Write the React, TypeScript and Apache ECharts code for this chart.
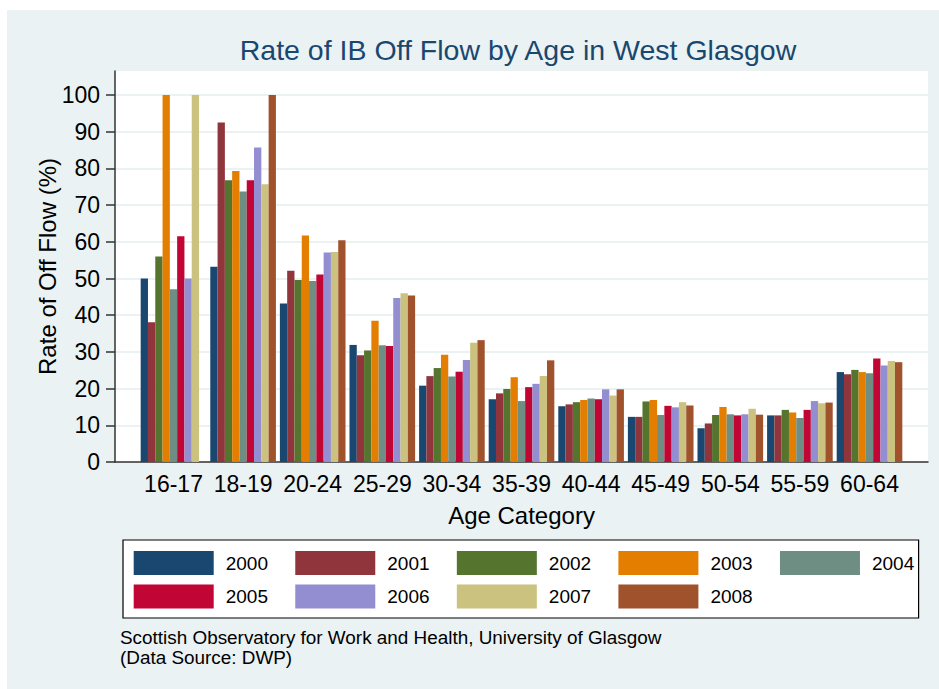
import React, { useEffect, useRef } from "react";
import * as echarts from "echarts";

const ageCategories = ["16-17", "18-19", "20-24", "25-29", "30-34", "35-39", "40-44", "45-49", "50-54", "55-59", "60-64"];
const years = ["2000", "2001", "2002", "2003", "2004", "2005", "2006", "2007", "2008"];
const yearColors = ["#1a476f", "#90353b", "#55752f", "#e37e00", "#6e8e84", "#c10534", "#938dd2", "#cac27e", "#a0522d"];

const v2000 = [50, 53.2, 43.2, 31.9, 20.8, 17.1, 15.2, 12.3, 9.2, 12.7, 24.5];
const v2001 = [38.1, 92.5, 52.1, 29.1, 23.4, 18.7, 15.7, 12.3, 10.5, 12.7, 23.9];
const v2002 = [56, 76.8, 49.6, 30.4, 25.6, 19.9, 16.3, 16.5, 12.8, 14.2, 25.1];
const v2003 = [100, 79.3, 61.7, 38.5, 29.2, 23.1, 16.9, 16.9, 15.0, 13.5, 24.5];
const v2004 = [47.1, 73.7, 49.3, 31.8, 23.3, 16.6, 17.3, 12.8, 13.0, 12.0, 24.2];
const v2005 = [61.5, 76.8, 51.1, 31.6, 24.6, 20.4, 17.1, 15.3, 12.7, 14.2, 28.2];
const v2006 = [50, 85.7, 57.1, 44.7, 27.8, 21.3, 19.8, 14.9, 13.0, 16.6, 26.3];
const v2007 = [100, 75.7, 57.2, 46.0, 32.5, 23.4, 18.1, 16.3, 14.5, 16.0, 27.5];
const v2008 = [null, 100, 60.4, 45.4, 33.2, 27.7, 19.8, 15.4, 12.9, 16.2, 27.2];
const seriesValues = [v2000, v2001, v2002, v2003, v2004, v2005, v2006, v2007, v2008];

const yTicks = { min: 0, max: 100, interval: 10 };

const FONT = "'Liberation Sans', Arial, Helvetica, sans-serif";

export default function App() {
  const ref = useRef<HTMLDivElement>(null);
  useEffect(() => {
    if (!ref.current) return;
    const chart = echarts.init(ref.current, undefined, { renderer: "svg" });
    const axisColor = "#333333";
    const legendBase = {
      left: 133.7, padding: 0,
      itemWidth: 80, itemHeight: 24, itemGap: 27.3,
      icon: "rect",
      textStyle: { fontSize: 19, color: "#000", padding: [0, 0, 0, 7] },
    };
    const option: any = {
      animation: false,
      textStyle: { fontFamily: FONT },
      color: yearColors,
      graphic: [
        { type: "rect", z: -100, shape: { x: 7, y: 10, width: 932, height: 679 }, style: { fill: "#EAF2F3" } },
        { type: "rect", z: -50, shape: { x: 123, y: 540, width: 795.6, height: 78 }, style: { fill: "#ffffff", stroke: "#000", lineWidth: 1.2 } },
        {
          type: "text", z: 10, x: 518, y: 50,
          style: { text: "Rate of IB Off Flow by Age in West Glasgow", font: `28.5px ${FONT}`, fill: "#1a476f", align: "center", verticalAlign: "middle", textAlign: "center", textVerticalAlign: "middle" },
        },
        {
          type: "text", z: 10, x: 120, y: 627,
          style: { text: "Scottish Observatory for Work and Health, University of Glasgow\n(Data Source: DWP)", font: `18.9px ${FONT}`, lineHeight: 20, fill: "#000" },
        },
      ],
      grid: [
        { left: 115, top: 71, width: 813, height: 391, show: true, backgroundColor: "#ffffff", borderWidth: 0 },
        { left: 115, top: 95, width: 813, height: 367 },
        { left: 138.7, top: 95, width: 765.6, height: 367 },
      ],
      xAxis: [
        { gridIndex: 0, type: "value", min: 0, max: 1, axisLine: { show: true, lineStyle: { color: axisColor, width: 1.5 } }, axisTick: { show: false }, axisLabel: { show: false }, splitLine: { show: false } },
        { gridIndex: 1, type: "value", min: 0, max: 1, show: false },
        {
          gridIndex: 2, type: "category", data: ageCategories,
          axisLine: { show: false }, axisTick: { show: false },
          axisLabel: { fontSize: 23, margin: 10, color: "#000", interval: 0, hideOverlap: false },
          name: "Age Category", nameLocation: "middle", nameGap: 41,
          nameTextStyle: { fontSize: 24, color: "#000" },
        },
      ],
      yAxis: [
        {
          gridIndex: 0, type: "value", min: 0, max: 1,
          axisLine: { show: true, lineStyle: { color: axisColor, width: 1.5 } }, axisTick: { show: false }, axisLabel: { show: false }, splitLine: { show: false },
          name: "Rate of Off Flow (%)", nameLocation: "middle", nameGap: 56,
          nameTextStyle: { fontSize: 24, color: "#000" },
        },
        {
          gridIndex: 1, type: "value", min: yTicks.min, max: yTicks.max, interval: yTicks.interval,
          axisLine: { show: false },
          axisTick: { show: true, length: 9, lineStyle: { color: axisColor, width: 1.5 } },
          axisLabel: { fontSize: 23, margin: 15, color: "#000" },
          splitLine: { show: true, showMinLine: false, lineStyle: { color: "#EAF2F3", width: 2 } },
        },
        { gridIndex: 2, type: "value", min: yTicks.min, max: yTicks.max, show: false },
      ],
      legend: [
        { ...legendBase, top: 551, data: years.slice(0, 5) },
        { ...legendBase, top: 584.5, data: years.slice(5) },
      ],
      series: years.map((y, i) => ({
        name: y,
        type: "bar",
        xAxisIndex: 2,
        yAxisIndex: 2,
        data: seriesValues[i],
        barGap: "0%",
        barCategoryGap: "5.7%",
        itemStyle: { color: yearColors[i] },
      })),
    };
    chart.setOption(option);
    return () => chart.dispose();
  }, []);
  return <div ref={ref} style={{ position: "absolute", left: 0, top: 0, width: 939, height: 689 }} />;
}
